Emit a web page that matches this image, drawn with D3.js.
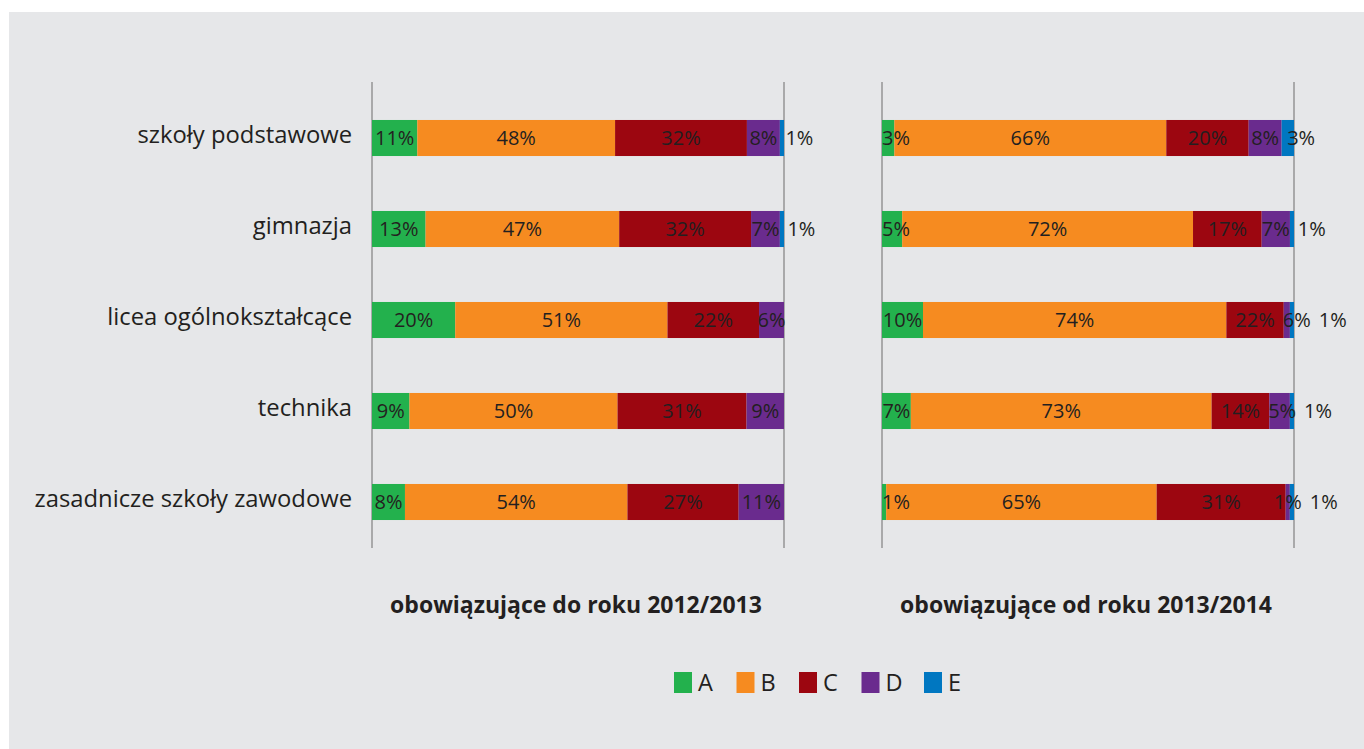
<!DOCTYPE html>
<html>
<head>
<meta charset="utf-8">
<script src="https://cdn.jsdelivr.net/npm/d3@7"></script>
<style>
  html, body { margin: 0; padding: 0; background: #ffffff; }
  svg { display: block; }
  text { font-family: "Open Sans", "Noto Sans", sans-serif; fill: #231f20; }
</style>
</head>
<body>
<svg id="chart" width="1364" height="749"></svg>
<script>
// ---------------- data ----------------
const categories = ["szkoły podstawowe", "gimnazja", "licea ogólnokształcące", "technika", "zasadnicze szkoły zawodowe"];
const seriesNames = ["A", "B", "C", "D", "E"];
const seriesColors = ["#23b14d", "#f68b20", "#9c0610", "#6a2b8e", "#0077c1"];
const panelTitles = ["obowiązujące do roku 2012/2013", "obowiązujące od roku 2013/2014"];

// left panel (do roku 2012/2013), percent
const leftA = [11, 13, 20, 9, 8];
const leftB = [48, 47, 51, 50, 54];
const leftC = [32, 32, 22, 31, 27];
const leftD = [8, 7, 6, 9, 11];
const leftE = [1, 1, 0, 0, 0];

// right panel (od roku 2013/2014), percent (bar lengths as drawn)
const rightA = [3, 5, 10, 7, 1];
const rightB = [66, 72, 74, 73, 65];
const rightC = [20, 17, 14, 14, 31];
const rightD = [8, 7, 1.5, 5, 1];
const rightE = [3, 1, 1, 1, 1];
// labels printed on the right panel for C and D (as in the original)
const rightLabelC = ["20%", "17%", "22%", "14%", "31%"];
const rightLabelD = ["8%", "7%", "6%", "5%", "1%"];

// ---------------- build ----------------
function rows(cols) {
  return categories.map((c, i) => {
    const r = { category: c };
    seriesNames.forEach((s, k) => r[s] = cols[k][i]);
    return r;
  });
}
const panels = [
  { title: panelTitles[0], data: rows([leftA, leftB, leftC, leftD, leftE]),
    labels: {}, range: [372, 784] },
  { title: panelTitles[1], data: rows([rightA, rightB, rightC, rightD, rightE]),
    labels: { C: rightLabelC, D: rightLabelD }, range: [882, 1294] }
];

const svg = d3.select("#chart");
svg.append("rect").attr("x", 9).attr("y", 12).attr("width", 1355).attr("height", 737).attr("fill", "#e6e7e9");

const y = d3.scaleBand().domain(categories).range([92.5, 547.5]).paddingInner(0.604).paddingOuter(0.302);
const color = d3.scaleOrdinal().domain(seriesNames).range(seriesColors);
const stack = d3.stack().keys(seriesNames).offset(d3.stackOffsetExpand);

// category axis
const yAxis = d3.axisLeft(y).tickSize(0).tickPadding(19);
const ag = svg.append("g").attr("transform", "translate(371,0)").call(yAxis);
ag.select(".domain").remove();
ag.attr("font-size", null).attr("font-family", null);
ag.selectAll("text").attr("font-size", 23.8).attr("dy", "0.22em")
  .style("font-family", '"Open Sans", sans-serif').attr("fill", "#231f20");

panels.forEach(p => {
  const x = d3.scaleLinear().domain([0, 1]).range(p.range);
  const g = svg.append("g");
  const layers = stack(p.data);

  // vertical boundary lines
  [0, 1].forEach(v => {
    g.append("line").attr("x1", x(v)).attr("x2", x(v)).attr("y1", 82).attr("y2", 548)
      .attr("stroke", "#9a9a9a").attr("stroke-width", 1.6);
  });

  layers.forEach(layer => {
    g.selectAll(null).data(layer).enter().append("rect")
      .attr("x", d => x(d[0]))
      .attr("y", d => y(d.data.category))
      .attr("width", d => Math.max(0, x(d[1]) - x(d[0])))
      .attr("height", y.bandwidth())
      .attr("fill", color(layer.key));
  });

  // labels
  const lg = g.append("g");
  p.data.forEach((row, i) => {
    let prevRight = -Infinity;
    layers.forEach(layer => {
      const d = layer[i];
      const v = row[layer.key];
      if (!v) return;
      const txt = p.labels[layer.key] ? p.labels[layer.key][i] : v + "%";
      const t = lg.append("text").attr("font-size", 20).text(txt)
        .attr("y", y(row.category) + y.bandwidth() / 2 + 7);
      const w = t.node().getComputedTextLength();
      let left = (x(d[0]) + x(d[1])) / 2 - w / 2;
      if (prevRight === -Infinity) left = Math.max(left, x(0));
      else left = Math.max(left, prevRight + 8);
      t.attr("x", left);
      prevRight = left + w;
    });
  });

  // panel title
  svg.append("text").attr("x", (p.range[0] + p.range[1]) / 2 - 2).attr("y", 613)
    .attr("text-anchor", "middle").attr("font-size", 23).attr("font-weight", "bold")
    .text(p.title);
});

// legend
const legX = d3.scalePoint().domain(seriesNames).range([674, 924]);
const leg = svg.append("g");
seriesNames.forEach(s => {
  leg.append("rect").attr("x", legX(s)).attr("y", 672).attr("width", 18).attr("height", 21).attr("fill", color(s));
  leg.append("text").attr("x", legX(s) + 24).attr("y", 691).attr("font-size", 23.5).text(s);
});
</script>
</body>
</html>
